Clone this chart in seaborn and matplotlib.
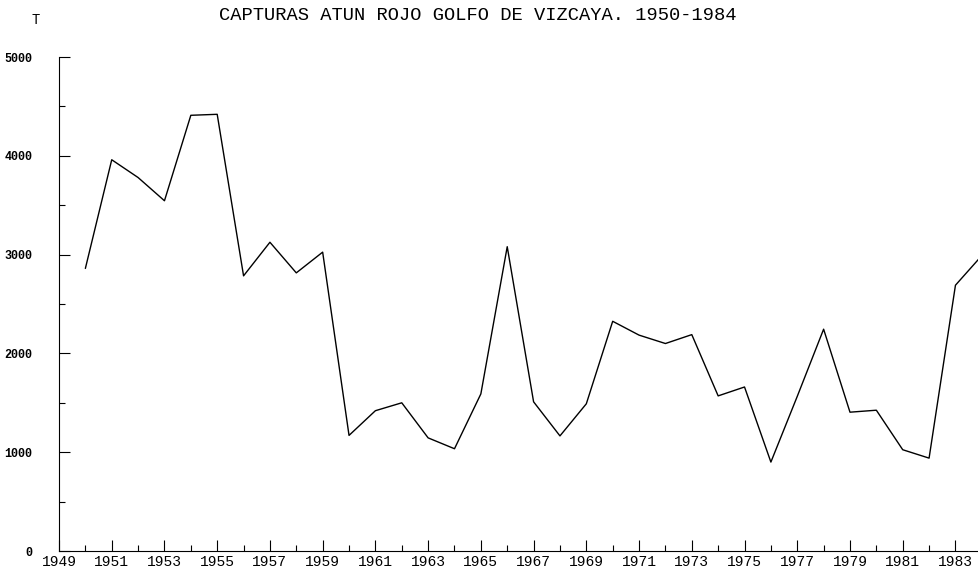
import pandas as pd
import matplotlib.pyplot as plt
import seaborn as sns
from matplotlib.ticker import MultipleLocator

# Capturas anuales (t)
years = list(range(1950, 1985))
catches = [2860, 3960, 3780, 3545, 4410, 4420, 2785, 3125, 2815, 3025,
           1170, 1420, 1500, 1145, 1035, 1590, 3080, 1510, 1165, 1490,
           2325, 2185, 2100, 2190, 1570, 1660, 900, 1565, 2245, 1405,
           1425, 1025, 940, 2690, 2990]
year_labels = [str(y) for y in range(1949, 1985, 2)]
title = "CAPTURAS ATUN ROJO GOLFO DE VIZCAYA. 1950-1984"


def main():
    df = pd.DataFrame({"year": years, "t": catches})

    sns.set_style("ticks")
    plt.rcParams['font.family'] = ['Liberation Mono', 'DejaVu Sans Mono']
    plt.rcParams['text.color'] = 'black'
    plt.rcParams['xtick.color'] = 'black'
    plt.rcParams['ytick.color'] = 'black'
    plt.rcParams['axes.edgecolor'] = 'black'

    fig = plt.figure(figsize=(9.79, 5.82), dpi=100)
    # axes deliberately runs past the right edge, like the scanned sheet
    ax = fig.add_axes([59 / 979, 31 / 582, (995 - 59) / 979, (551 - 57) / 582])

    sns.lineplot(data=df, x="year", y="t", color="black", linewidth=1.0, ax=ax)

    ax.set_xlim(1949, 1984.5)
    ax.set_ylim(0, 5000)
    ax.spines['top'].set_visible(False)
    ax.spines['right'].set_visible(False)
    ax.spines['left'].set_linewidth(0.8)
    ax.spines['bottom'].set_linewidth(0.8)

    ax.set_xticks(range(1949, 1985, 2))
    ax.set_xticklabels(year_labels, fontsize=10.5)
    ax.xaxis.set_minor_locator(MultipleLocator(1))
    ax.yaxis.set_major_locator(MultipleLocator(1000))
    ax.yaxis.set_minor_locator(MultipleLocator(500))
    ax.set_yticklabels([f"{int(v)}" for v in ax.get_yticks()], fontsize=8.5, fontweight="bold")

    ax.tick_params(axis="both", which="major", direction="in", length=8, width=0.8)
    ax.tick_params(axis="both", which="minor", direction="in", length=4, width=0.8)
    ax.tick_params(axis="x", which="major", pad=3)
    ax.tick_params(axis="y", which="major", pad=19)

    ax.set_xlabel("")
    ax.set_ylabel("")

    fig.text(36 / 979, 1 - 20 / 582, "T", fontsize=10, ha="center", va="center")
    fig.text(478 / 979, 1 - 15 / 582, title, fontsize=13.5, ha="center", va="center")

    fig.savefig("out.png", dpi=100)


if __name__ == "__main__":
    main()
